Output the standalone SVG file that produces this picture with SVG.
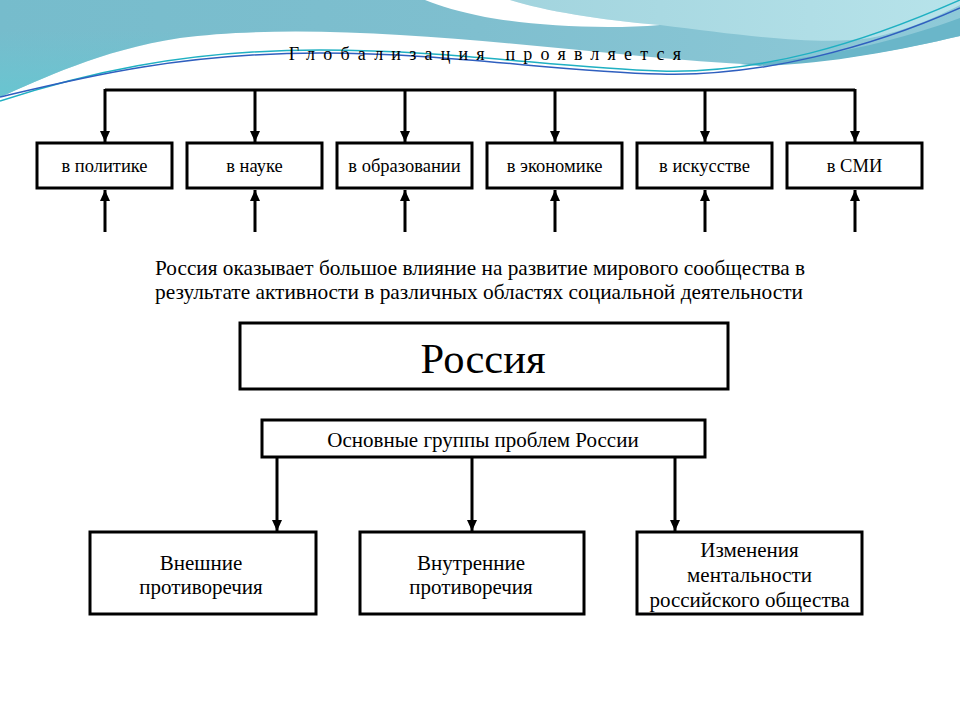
<svg xmlns="http://www.w3.org/2000/svg" width="960" height="720" viewBox="0 0 960 720">
<style>
text{font-family:"Liberation Serif","DejaVu Serif",serif;fill:#000;text-anchor:middle}
.box{fill:#fff;stroke:#000;stroke-width:3}
.ln{fill:none;stroke:#000;stroke-width:3}
.lbl{font-size:18.5px}
.big{font-size:21px}
</style>
<defs>
<linearGradient id="gMain" x1="0" y1="0" x2="1" y2="0">
<stop offset="0" stop-color="#76bccc"/>
<stop offset="0.5" stop-color="#7fbfcf"/>
<stop offset="1" stop-color="#8fcad8"/>
</linearGradient>
<linearGradient id="gLeft" x1="0" y1="0" x2="0" y2="1">
<stop offset="0" stop-color="#6cc6d2" stop-opacity="0"/>
<stop offset="1" stop-color="#66c6d1" stop-opacity="0.9"/>
</linearGradient>
<linearGradient id="gLight" x1="0" y1="0" x2="1" y2="0">
<stop offset="0" stop-color="#a2d4de"/>
<stop offset="1" stop-color="#b7e3ea"/>
</linearGradient>
<marker id="ah" markerUnits="userSpaceOnUse" markerWidth="12" markerHeight="10" refX="11" refY="5" orient="auto">
<path d="M0,0 L11,5 L0,10 Z" fill="#000"/>
</marker>
</defs>
<rect width="960" height="720" fill="#fff"/>
<g id="background">
<path d="M0,97 C40,80 100,50 180,38 C240,30 320,30 400,35 C480,40 560,48 640,56 C680,60 720,63 760,65 C830,63 900,50 960,36 V0 H0 Z" fill="url(#gMain)"/>
<path d="M0,97 C40,80 100,50 180,38 L180,30 L0,30 Z" fill="url(#gLeft)"/>
<path d="M510,0 C545,11 600,20 660,25 C740,35 820,46 870,38 C910,30 940,15 960,5 V0 Z" fill="url(#gLight)"/>
<path d="M425,0 H510 C545,11 600,20 660,25 C600,30 530,25 485,17 C460,12 440,6 425,0 Z" fill="#fff"/>
<path d="M740,64 C820,60 900,40 960,18 V36 C900,50 830,64 760,66 Z" fill="#6ab6c9"/>
<path d="M0,101 C80,75 180,50 320,50 C450,50 560,68 660,71 C760,74 860,44 960,0" fill="none" stroke="#1fb0c2" stroke-width="1.5"/>
<path d="M0,97 C80,78 180,53 320,53 C450,53 560,72 660,74 C760,77 870,48 960,8" fill="none" stroke="#2f5fbf" stroke-width="1.5"/>
</g>
<text x="489" y="60" font-size="18" letter-spacing="8.2">Глобализация проявляется</text>
<g id="connectors">
<path class="ln" d="M105,90 H855"/>
<path class="ln" d="M105,89 V142" marker-end="url(#ah)"/>
<path class="ln" d="M255,89 V142" marker-end="url(#ah)"/>
<path class="ln" d="M405,89 V142" marker-end="url(#ah)"/>
<path class="ln" d="M555,89 V142" marker-end="url(#ah)"/>
<path class="ln" d="M705,89 V142" marker-end="url(#ah)"/>
<path class="ln" d="M855,89 V142" marker-end="url(#ah)"/>
<path class="ln" d="M105,232 V190" marker-end="url(#ah)"/>
<path class="ln" d="M255,232 V190" marker-end="url(#ah)"/>
<path class="ln" d="M405,232 V190" marker-end="url(#ah)"/>
<path class="ln" d="M555,232 V190" marker-end="url(#ah)"/>
<path class="ln" d="M705,232 V190" marker-end="url(#ah)"/>
<path class="ln" d="M855,232 V190" marker-end="url(#ah)"/>
<path class="ln" d="M277,458 V531" marker-end="url(#ah)"/>
<path class="ln" d="M472,458 V531" marker-end="url(#ah)"/>
<path class="ln" d="M675,458 V531" marker-end="url(#ah)"/>
</g>
<g id="n-politics"><rect class="box" x="37" y="143" width="135" height="45"/><text class="lbl" x="104.5" y="172">в политике</text></g>
<g id="n-science"><rect class="box" x="187" y="143" width="135" height="45"/><text class="lbl" x="254.5" y="172">в науке</text></g>
<g id="n-education"><rect class="box" x="337" y="143" width="135" height="45"/><text class="lbl" x="404.5" y="172">в образовании</text></g>
<g id="n-economy"><rect class="box" x="487" y="143" width="135" height="45"/><text class="lbl" x="554.5" y="172">в экономике</text></g>
<g id="n-art"><rect class="box" x="637" y="143" width="135" height="45"/><text class="lbl" x="704.5" y="172">в искусстве</text></g>
<g id="n-media"><rect class="box" x="787" y="143" width="135" height="45"/><text class="lbl" x="854.5" y="172">в СМИ</text></g>
<g id="caption">
<text class="big" x="480" y="275" textLength="650" lengthAdjust="spacingAndGlyphs">Россия оказывает большое влияние на развитие мирового сообщества в</text>
<text class="big" x="479" y="299" textLength="648" lengthAdjust="spacingAndGlyphs">результате активности в различных областях социальной деятельности</text>
</g>
<g id="n-russia"><rect class="box" x="240" y="323" width="488" height="66"/><text x="483" y="373" font-size="42.5">Россия</text></g>
<g id="n-groups"><rect class="box" x="262" y="420" width="443" height="37"/><text class="big" x="483" y="447">Основные группы проблем России</text></g>
<g id="n-external"><rect class="box" x="90" y="532" width="226" height="82"/><text class="big" x="201" y="570">Внешние</text><text class="big" x="201" y="594">противоречия</text></g>
<g id="n-internal"><rect class="box" x="360" y="532" width="224" height="82"/><text class="big" x="471" y="570">Внутренние</text><text class="big" x="471" y="594">противоречия</text></g>
<g id="n-mentality"><rect class="box" x="637" y="532" width="225" height="82"/><text class="big" x="749.5" y="557">Изменения</text><text class="big" x="749.5" y="582">ментальности</text><text class="big" x="749.5" y="607">российского общества</text></g>
</svg>
